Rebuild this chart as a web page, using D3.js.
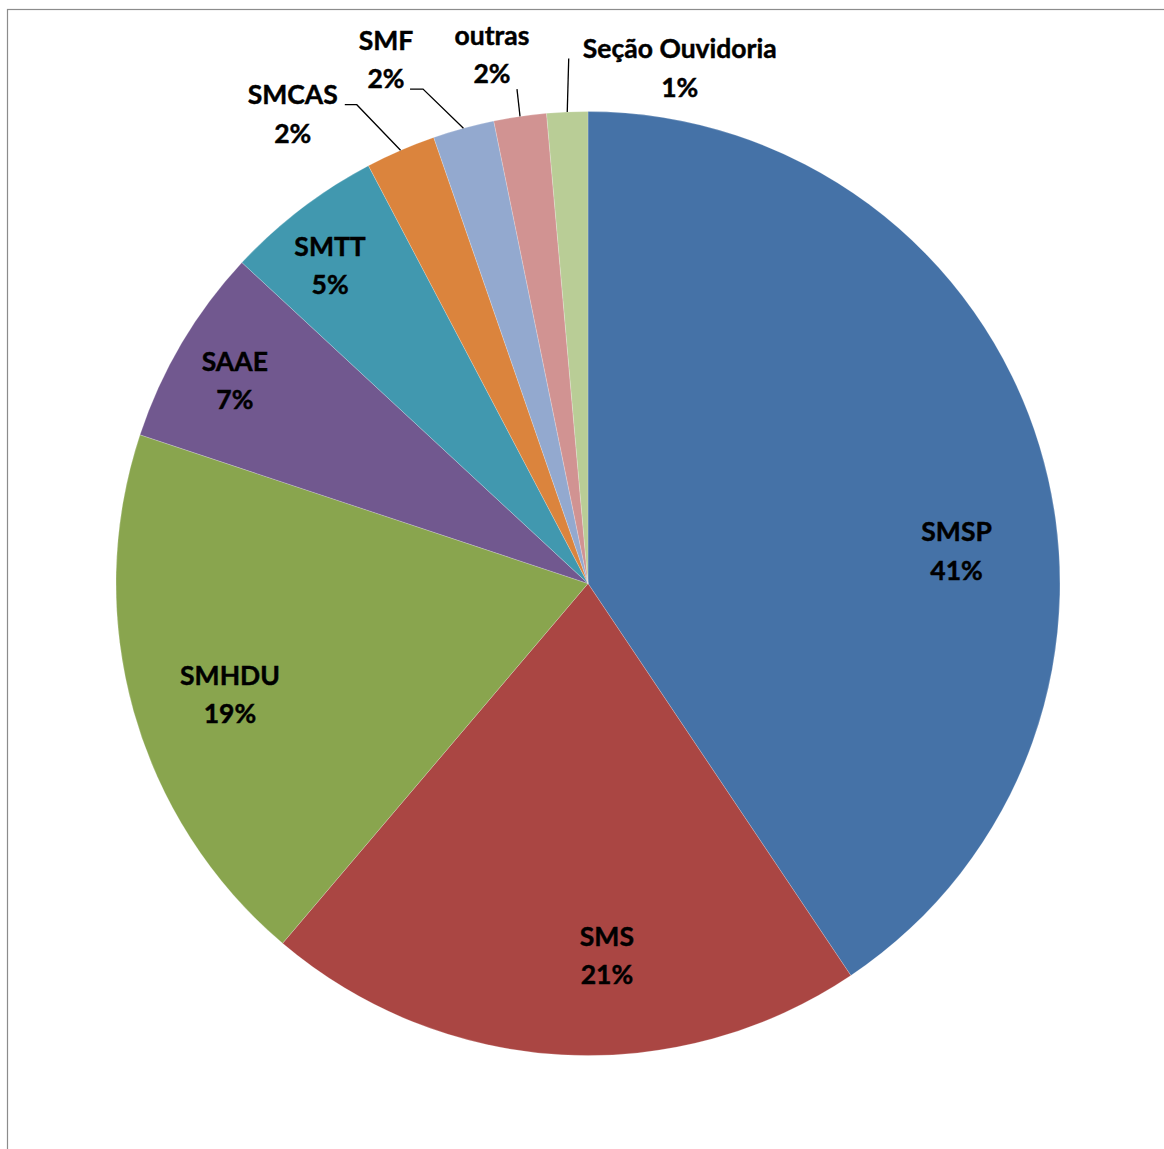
<!DOCTYPE html>
<html>
<head>
<meta charset="utf-8">
<script src="https://cdn.jsdelivr.net/npm/d3@7/dist/d3.min.js"></script>
<style>
  html, body { margin: 0; padding: 0; background: #fff; }
  svg { display: block; }
  text { font-family: Lato, "Open Sans", sans-serif; font-weight: 700; fill: #000; stroke: #000; stroke-width: 0.45px; }
</style>
</head>
<body>
<svg id="chart" width="1164" height="1149"></svg>
<script>
// Demandas por secretaria (participação percentual)
const categories = ["SMSP", "SMS", "SMHDU", "SAAE", "SMTT", "SMCAS", "SMF", "outras", "Seção Ouvidoria"];
const values = [40.6, 20.6, 18.9, 6.8, 5.4, 2.4, 2.1, 1.8, 1.4];
const colors = ["#4572A7", "#AA4643", "#89A54E", "#71588F", "#4198AF", "#DB843D", "#93A9CF", "#D19392", "#B9CD96"];

// Label placement: polar position of the label block (degrees clockwise from 12 o'clock, radius in px)
// and, for outside labels, the leader-line points next to the label (offsets from label centre).
const labelLayout = [
  { angle: 85.0,  r: 370 },
  { angle: 177.1, r: 373 },
  { angle: 252.7, r: 375 },
  { angle: 299.8, r: 407 },
  { angle: 320.9, r: 409 },
  { angle: 327.8, r: 554, leader: [[52, -10], [64, -10]] },
  { angle: 338.9, r: 561, leader: [[24, 29], [37, 29]] },
  { angle: 349.7, r: 537, leader: [[25, 34]] },
  { angle: 10.1,  r: 523, leader: [[-111, -10]] }
];

const W = 1164, H = 1149;
const cx = 588, cy = 583.5, R = 472;

const svg = d3.select("#chart");

// chart area frame
svg.append("rect")
  .attr("x", 7.5).attr("y", 9.5)
  .attr("width", W + 20).attr("height", H + 20)
  .attr("fill", "none")
  .attr("stroke", "#8c8c8c")
  .attr("stroke-width", 1.2);

const total = d3.sum(values);
const data = categories.map((c, i) => ({ name: c, value: values[i], color: colors[i], layout: labelLayout[i] }));

const pie = d3.pie().value(d => d.value).sort(null);
const arc = d3.arc().innerRadius(0).outerRadius(R);
const arcs = pie(data);

const g = svg.append("g").attr("transform", `translate(${cx},${cy})`);

g.selectAll("path.slice")
  .data(arcs)
  .join("path")
  .attr("class", "slice")
  .attr("d", arc)
  .attr("fill", d => d.data.color)
  .attr("stroke", "#ffffff")
  .attr("stroke-width", 0.4)
  .attr("stroke-opacity", 0.5);

const polar = (deg, r) => {
  const a = deg * Math.PI / 180;
  return [r * Math.sin(a), -r * Math.cos(a)];
};

const lineH = 38.5;

arcs.forEach(d => {
  const L = d.data.layout;
  const [lx, ly] = polar(L.angle, L.r);
  const pct = Math.round(d.data.value / total * 100) + "%";

  if (L.leader) {
    // leader line from the middle of the slice's outer edge to the label
    const mid = (d.startAngle + d.endAngle) / 2;
    const edge = [R * Math.sin(mid), -R * Math.cos(mid)];
    const ordered = [edge].concat(L.leader.slice().reverse().map(p => [lx + p[0], ly + p[1]]));
    g.append("path")
      .attr("d", d3.line()(ordered))
      .attr("fill", "none")
      .attr("stroke", "#000")
      .attr("stroke-width", 1.3);
  }

  const t = g.append("text")
    .attr("x", lx).attr("y", ly)
    .attr("text-anchor", "middle")
    .style("font-size", "26.5px");
  t.append("tspan").attr("x", lx).attr("dy", -lineH / 2 + 9).text(d.data.name);
  t.append("tspan").attr("x", lx).attr("dy", lineH).text(pct);
});
</script>
</body>
</html>
